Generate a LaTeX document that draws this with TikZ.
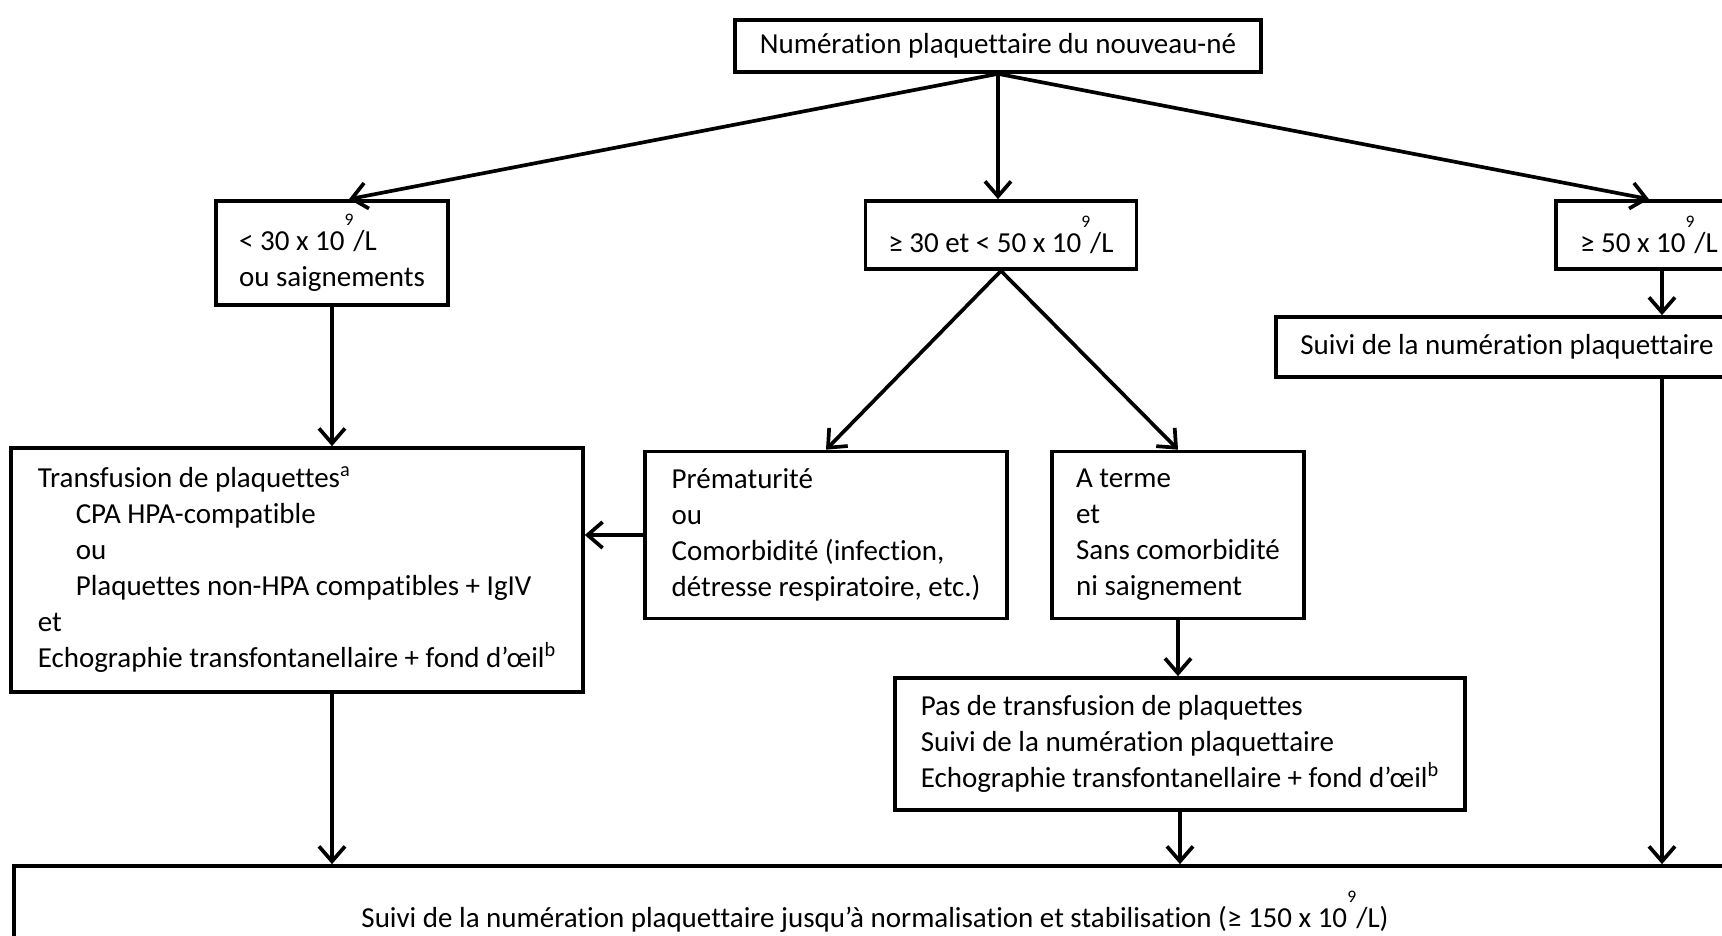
\documentclass[tikz,border=0pt]{standalone}
\usepackage{fontspec}
\setmainfont{Carlito}[Ligatures=NoCommon]
\usetikzlibrary{arrows.meta}
\newcommand{\puiss}{10\raisebox{0.85em}{\fontsize{10}{10}\selectfont 9}/L}

\begin{document}
\begin{tikzpicture}
[x=0.02cm,y=-0.02cm,
 box/.style={draw=black,line width=2.1pt,inner xsep=0.44cm,inner ysep=0pt,font=\fontsize{16.5}{20.5}\selectfont},
 lbox/.style={box,align=left},
 ar/.style={draw=black,line width=2.1pt,arrows={-Straight Barb[length=0.3cm,width=0.52cm]}}]
\useasboundingbox (0,0) rectangle (1722,936);
\clip (0,0) rectangle (1722,936);

\node[box,minimum width=10.52cm,minimum height=1.04cm] (num) at (998,46) {Numération plaquettaire du nouveau-né};
\node[lbox,minimum width=4.64cm,minimum height=2.08cm] (bas) at (332,253) {< 30 x \puiss\\ou saignements};
\node[box,minimum width=5.42cm,minimum height=1.36cm] (moy) at (1001,235) {≥ 30 et < 50 x \puiss};
\node[box,minimum width=3.72cm,minimum height=1.36cm] (haut) at (1649,235) {≥ 50 x \puiss};
\node[box,minimum width=9.24cm,minimum height=1.2cm] (suivi) at (1507,347) {Suivi de la numération plaquettaire};
\node[lbox,minimum width=11.44cm,minimum height=4.88cm] (transf) at (297,570) {Transfusion de plaquettes\textsuperscript{a}\\
  \hspace*{0.76cm}CPA HPA-compatible\\
  \hspace*{0.76cm}ou\\
  \hspace*{0.76cm}Plaquettes non-HPA compatibles + IgIV\\
  et\\
  Echographie transfontanellaire + fond d’œil\textsuperscript{b}};
\node[lbox,minimum width=7.24cm,minimum height=3.34cm] (prema) at (826,535) {Prématurité\\ou\\Comorbidité (infection,\\détresse respiratoire, etc.)};
\node[lbox,minimum width=5.04cm,minimum height=3.34cm] (terme) at (1178,535) {A terme\\et\\Sans comorbidité\\ni saignement};
\node[lbox,minimum width=11.4cm,minimum height=2.64cm] (pas) at (1180,744) {Pas de transfusion de plaquettes\\Suivi de la numération plaquettaire\\Echographie transfontanellaire + fond d’œil\textsuperscript{b}};
\node[box,minimum width=34.44cm,minimum height=1.84cm] (fin) at (875,912) {Suivi de la numération plaquettaire jusqu’à normalisation et stabilisation (≥ 150 x \puiss)};
\coordinate (droite) at (1662,0);

\draw[ar] (num.south) -- ([xshift=0.34cm]bas.north);
\draw[ar] (num.south) -- (num.south |- moy.north);
\draw[ar] (num.south) -- (haut.north);
\draw[ar] (bas.south) -- (bas.south |- transf.north);
\draw[ar] (moy.south) -- (prema.north);
\draw[ar] (moy.south) -- (terme.north);
\draw[ar] (prema.west) -- (prema.west -| transf.east);
\draw[ar] (haut.south -| droite) -- (suivi.north -| droite);
\draw[ar] (terme.south) -- (terme.south |- pas.north);
\draw[ar] (bas.south |- transf.south) -- (bas.south |- fin.north);
\draw[ar] (pas.south) -- (pas.south |- fin.north);
\draw[ar] (suivi.south -| droite) -- (fin.north -| droite);

\end{tikzpicture}
\end{document}
